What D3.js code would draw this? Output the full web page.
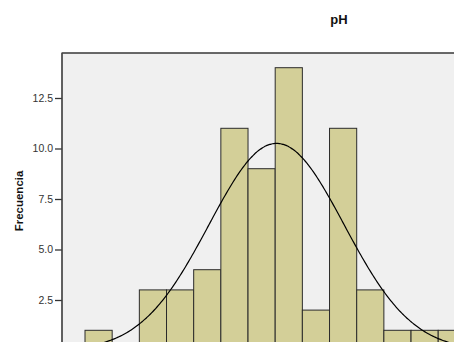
<!DOCTYPE html>
<html><head><meta charset="utf-8">
<script src="https://cdn.jsdelivr.net/npm/d3@7"></script>
<style>body{margin:0;background:#fff}svg{display:block}</style>
</head><body>
<svg id="c" width="454" height="342"></svg>
<script>
// Data (bin index along x, frequency along y)
const counts = [1, 0, 3, 3, 4, 11, 9, 14, 2, 11, 3, 1, 1, 1];
const yTicks = [2.5, 5.0, 7.5, 10.0, 12.5];
const curveMean = 7.05;   // in bin units
const curveSD = 2.49;     // in bin units
const totalN = 64;
const title = "pH";
const yLabel = "Frecuencia";

const svg = d3.select("#c");
const W = 454, H = 342;
const frameLeft = 62, frameTop = 53;

// scales
const x = d3.scaleLinear().domain([0, 1]).range([85, 85 + 27.17]);
const y = d3.scaleLinear().domain([0, 2.5]).range([350.5, 300]);

// frame background
svg.append("rect").attr("x", frameLeft).attr("y", frameTop)
  .attr("width", W - frameLeft + 10).attr("height", H - frameTop + 10)
  .attr("fill", "#f0f0f0").attr("stroke", "#444").attr("stroke-width", 1.2);

// bars
const bins = counts.map((c, i) => ({i, c})).filter(d => d.c > 0);
svg.append("g").selectAll("rect").data(bins).join("rect")
  .attr("x", d => x(d.i))
  .attr("y", d => y(d.c))
  .attr("width", d => x(d.i + 1) - x(d.i))
  .attr("height", d => y(0) - y(d.c))
  .attr("fill", "#d3cf98")
  .attr("stroke", "#2b2b2b")
  .attr("stroke-width", 1);

// normal curve
const xs = d3.range(-1, 15.01, 0.05);
const pdf = v => totalN / (curveSD * Math.sqrt(2 * Math.PI)) * Math.exp(-0.5 * ((v - curveMean) / curveSD) ** 2);
svg.append("path")
  .datum(xs)
  .attr("fill", "none").attr("stroke", "#000").attr("stroke-width", 1.2)
  .attr("d", d3.line().x(v => x(v)).y(v => y(pdf(v))).curve(d3.curveBasis));

// y axis
const yAxis = d3.axisLeft(y).tickValues(yTicks).tickFormat(d3.format(".1f")).tickSize(7).tickPadding(2);
const ga = svg.append("g").attr("transform", `translate(${frameLeft},0)`).call(yAxis);
ga.select(".domain").remove();
ga.selectAll("line").attr("stroke", "#333").attr("stroke-width", 1.3);
ga.selectAll("text").attr("font-family", "Arial, 'Liberation Sans', sans-serif")
  .attr("font-size", 10.5).attr("fill", "#333");

// re-draw frame border lines on top (left & top)
svg.append("line").attr("x1", frameLeft).attr("x2", frameLeft).attr("y1", frameTop).attr("y2", H + 5)
  .attr("stroke", "#444").attr("stroke-width", 1.2);
svg.append("line").attr("x1", frameLeft).attr("x2", W + 5).attr("y1", frameTop).attr("y2", frameTop)
  .attr("stroke", "#444").attr("stroke-width", 1.2);

// title
svg.append("text").attr("x", 339).attr("y", 24).attr("text-anchor", "middle")
  .attr("font-family", "Arial, 'Liberation Sans', sans-serif").attr("font-weight", "bold")
  .attr("font-size", 13).attr("fill", "#111").text(title);

// y label
svg.append("text").attr("transform", "translate(23,201) rotate(-90)").attr("text-anchor", "middle")
  .attr("font-family", "Arial, 'Liberation Sans', sans-serif").attr("font-weight", "bold")
  .attr("font-size", 11.5).attr("fill", "#111").text(yLabel);
</script>
</body></html>
